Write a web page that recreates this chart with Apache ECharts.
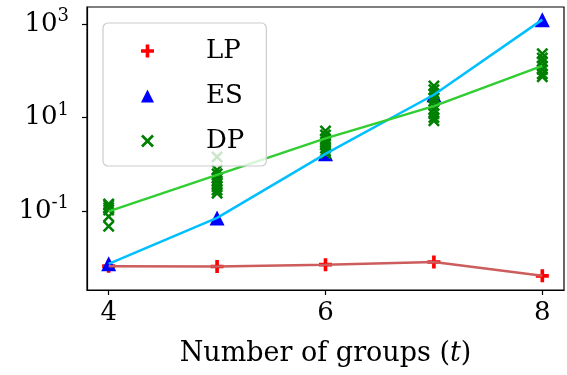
<!DOCTYPE html>
<html><head><meta charset="utf-8">
<script src="https://cdn.jsdelivr.net/npm/echarts@6/dist/echarts.min.js"></script>
<style>html,body{margin:0;padding:0;background:#fff}#c{width:567px;height:375px}</style>
</head><body><div id="c"></div>
<script>
const groups = [4, 5, 6, 7, 8];
const lpValues = [0.0066, 0.0065, 0.0071, 0.0081, 0.0041];
const esValues = [0.0074, 0.071, 1.66, 30.5, 1230];
const dpTrend = [0.098, 0.59, 3.55, 17.4, 126];
const dpRuns4 = [0.141, 0.132, 0.117, 0.105, 0.076, 0.047];
const dpRuns5 = [1.43, 0.75, 0.62, 0.51, 0.44, 0.38, 0.33, 0.28, 0.24];
const dpRuns6 = [5.1, 4.2, 3.5, 3.0, 2.6, 2.2, 1.9, 1.7];
const dpRuns7 = [47, 39, 32, 26, 22, 18, 14.6, 12, 9.9, 8.5];
const dpRuns8 = [229, 186, 155, 126, 105, 85, 74];
const xTicks = [4, 6, 8];
const yTicks = [0.1, 10, 1000];
const seriesNames = ['LP', 'ES', 'DP'];

const plusPath = 'path://M3.6,0H6.4V3.6H10V6.4H6.4V10H3.6V6.4H0V3.6H3.6Z';
const crossPath = 'path://M1.5,0L5,3.5L8.5,0L10,1.5L6.5,5L10,8.5L8.5,10L5,6.5L1.5,10L0,8.5L3.5,5L0,1.5Z';
const triPath = 'triangle';

const pair = (xs, ys) => xs.map((x, i) => [x, ys[i]]);
const dpRuns = [dpRuns4, dpRuns5, dpRuns6, dpRuns7, dpRuns8];
const dpPoints = [];
dpRuns.forEach((arr, i) => arr.forEach(v => dpPoints.push([groups[i], v])));

const serif = 'DejaVu Serif';
const fs = 26;
const chart = echarts.init(document.getElementById('c'), null, {renderer: 'canvas'});
chart.setOption({
  animation: false,
  textStyle: {fontFamily: serif},
  grid: {left: 87, right: 3, top: 7, bottom: 85, show: true, borderColor: '#000', borderWidth: 1.2, containLabel: false},
  legend: {
    left: 103, top: 23, orient: 'vertical',
    padding: [15, 22, 12, 38], itemGap: 19,
    itemWidth: 13, itemHeight: 13,
    backgroundColor: 'rgba(255,255,255,0.8)', borderColor: '#cccccc', borderWidth: 1.2, borderRadius: 5,
    textStyle: {fontFamily: serif, fontSize: fs, color: '#000', padding: [0, 0, 0, 47]},
    data: [
      {name: seriesNames[0], icon: plusPath},
      {name: seriesNames[1], icon: triPath},
      {name: seriesNames[2], icon: crossPath}
    ]
  },
  xAxis: {
    type: 'value', min: 3.8, max: 8.2,
    name: '{a|Number of groups (}{i|t}{a|)}',
    nameLocation: 'middle', nameGap: 50,
    nameTextStyle: {rich: {a: {fontFamily: serif, fontSize: 27, color: '#000'}, i: {fontFamily: serif, fontSize: 27, fontStyle: 'italic', color: '#000'}}},
    axisLine: {show: true, onZero: false, lineStyle: {color: '#000', width: 1.2}},
    axisTick: {show: true, length: 5, lineStyle: {color: '#000', width: 1.2}, customValues: xTicks},
    axisLabel: {fontFamily: serif, fontSize: fs, color: '#000', margin: 10, customValues: xTicks},
    splitLine: {show: false}
  },
  yAxis: {
    type: 'log', logBase: 10, min: 0.00204, max: 2290,
    axisLine: {show: true, lineStyle: {color: '#000', width: 1.2}},
    axisTick: {show: true, length: 5, lineStyle: {color: '#000', width: 1.2}, customValues: yTicks},
    axisLabel: {
      customValues: yTicks, margin: 18,
      formatter: v => '{b|10}{s|' + String(Math.round(Math.log10(v))) + '}',
      rich: {
        b: {fontFamily: serif, fontSize: fs, color: '#000'},
        s: {fontFamily: serif, fontSize: 18, color: '#000', verticalAlign: 'bottom', padding: [0, 0, 15, 0]}
      }
    },
    splitLine: {show: false}
  },
  series: [
    {name: 'LP', type: 'scatter', symbol: plusPath, symbolSize: 13, itemStyle: {color: '#ff0000', opacity: 1}, data: pair(groups, lpValues), z: 2},
    {name: 'ES', type: 'scatter', symbol: triPath, symbolSize: [15, 15], itemStyle: {color: '#0000ff', opacity: 1}, data: pair(groups, esValues), z: 2},
    {name: 'DP', type: 'scatter', symbol: crossPath, symbolSize: 12, itemStyle: {color: '#008000', opacity: 1}, data: dpPoints, z: 2},
    {name: 'LP line', type: 'line', symbol: 'none', lineStyle: {color: '#cd5c5c', width: 2.5}, data: pair(groups, lpValues), z: 3},
    {name: 'ES line', type: 'line', symbol: 'none', lineStyle: {color: '#00bfff', width: 2.5}, data: pair(groups, esValues), z: 3},
    {name: 'DP line', type: 'line', symbol: 'none', lineStyle: {color: '#32cd32', width: 2.5}, data: pair(groups, dpTrend), z: 3}
  ]
});
</script></body></html>
